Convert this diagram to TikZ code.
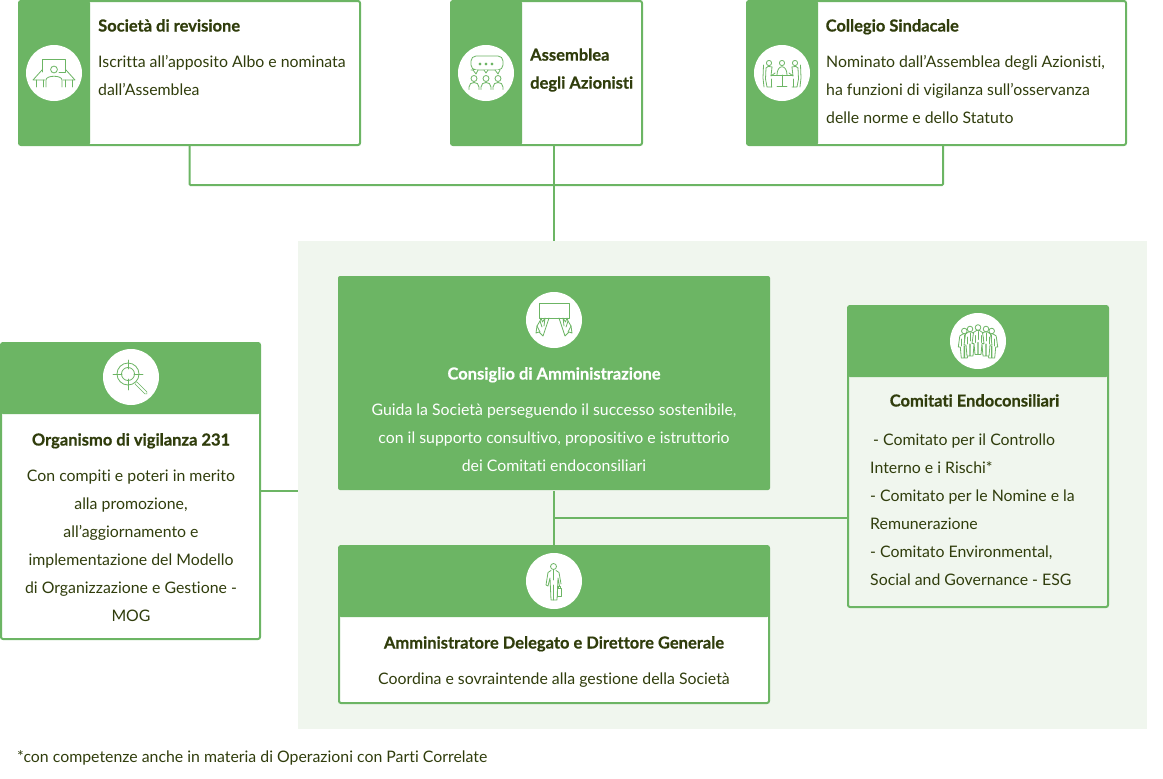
\documentclass[tikz,border=0pt]{standalone}
\usepackage{fontspec}
\setmainfont[Ligatures=NoCommon, BoldFeatures={FakeBold=0.6}]{Lato}
\usepackage{tikz}
\usetikzlibrary{calc,positioning}

\definecolor{leaf}{HTML}{6CB564}
\definecolor{paleleaf}{HTML}{F0F6EE}
\definecolor{ink}{HTML}{303D0C}

\tikzset{
    card/.style={rectangle, draw=leaf, line width=2pt, fill=white, rounded corners=2pt, inner sep=0pt, anchor=north west},
    sidecard/.style={card, path picture={\fill[leaf] (path picture bounding box.north west) rectangle ([xshift=71pt]path picture bounding box.south west);}},
    topcard/.style={card, path picture={\fill[leaf] (path picture bounding box.north west) rectangle ([yshift=-71pt]path picture bounding box.north east);}},
    badge/.style={circle, fill=white, minimum size=56pt, inner sep=0pt},
    titletext/.style={inner sep=0pt, text=ink, font=\fontsize{16.5}{28}\selectfont\bfseries},
    bodytext/.style={inner sep=0pt, text=ink, font=\fontsize{15.85}{28}\selectfont},
    link/.style={draw=leaf, line width=2pt},
    glyph/.style={draw=leaf, line width=.8pt, line join=round, line cap=round},
    deskicon/.pic={
        \draw[glyph] (-11.5,-1) -- (-11.5,-13.5) -- (11,-13.5) -- (11,-1) -- (5,-1);
        \draw[glyph] (0,-3.5) circle (3.4);
        \draw[glyph] (-8,14) -- (-8,7) .. controls (-8,2) and (8,2) .. (8,7) -- (8,14);
        \draw[glyph] (-12,-3) -- (-21,7) -- (-9,7);
        \draw[glyph] (12,-3) -- (21,7) -- (9,7);
        \draw[glyph] (-18,7) -- (-18,14) (-11,7) -- (-11,14) (18,7) -- (18,14) (11,7) -- (11,14);
    },
    talkicon/.pic={
        \draw[glyph, rounded corners=5pt] (-5,-3) -- (-10,-3) -- (-15,-3) -- (-15,-17) -- (17,-17) -- (17,-3) -- (5,-3) -- cycle;
        \draw[glyph, fill=white] (-13,-3) -- (-10,1) -- (-8,-3);
        \draw[glyph, fill=white] (9,-3) -- (12,1) -- (14,-3);
        \draw[glyph, fill=white] (-2,-3) -- (0,0) -- (2,-3);
        \foreach \dotx in {-6,0,6} {\draw[glyph] (\dotx,-9) circle (1);}
        \foreach \manx in {-12,0,12} {
            \draw[glyph] (\manx,5.5) circle (3);
            \draw[glyph] (\manx-5,16.5) -- (\manx-5,14) .. controls (\manx-5,8) and (\manx+5,8) .. (\manx+5,14) -- (\manx+5,16.5);
        }
    },
    tableicon/.pic={
        \draw[glyph] (0,-10) circle (2.6);
        \draw[glyph] (-5,2) .. controls (-5,-9) and (5,-9) .. (5,2);
        \draw[glyph] (-11,2) -- (11,2) (0,2) -- (0,13.5) (-5,13.5) -- (5,13.5);
        \foreach \side in {1,-1} {
            \begin{scope}[xscale=\side]
                \draw[glyph] (13,-10) circle (2.6);
                \draw[glyph] (18.5,-8) -- (19,5) -- (18,14);
                \draw[glyph] (16,-5) -- (16.5,6) -- (15,14) -- (10,14);
                \draw[glyph] (10,-6) .. controls (13,-7) and (15,-7) .. (16,-5);
                \draw[glyph] (10,-6) -- (11,3) -- (7,0);
                \draw[glyph] (11,6) -- (11,14);
            \end{scope}
        }
    },
    tableticon/.pic={
        \draw[glyph] (-15,-2) -- (-15,-17) -- (15,-17) -- (15,-2) -- cycle;
        \foreach \side in {1,-1} {
            \begin{scope}[xscale=\side]
                \draw[glyph] (5,-2) -- (11,16) -- (15,12) -- (18,13) -- (17,6) -- (14,1) -- (13,-2) -- (11.5,2) -- (9,-2) -- (10,6);
                \draw[glyph] (14,1) -- (12,7) (17,6) -- (14,12);
            \end{scope}
        }
    },
    crowdman/.pic={
        \draw[glyph, fill=white] (-1.5,3) -- (-4.5,5) -- (-6,16) -- (-4,16) -- (-3,27) -- (-.3,27) -- (-.3,15) -- (.3,15) -- (.3,27) -- (3,27) -- (4,16) -- (6,16) -- (4.5,5) -- (1.5,3) -- cycle;
        \draw[glyph, fill=white] (0,0) circle (2.8);
        \draw[glyph] (-3,8) -- (-3,15) (3,8) -- (3,15) (0,4) -- (0,12);
    },
    execicon/.pic={
        \draw[glyph] (-.5,-14.5) circle (3);
        \draw[glyph] (-3,-10.5) -- (-6,-8.5) -- (-8,4) -- (-6,5) -- (-4,-3) -- (-3,19) -- (3,19) -- (4,-3) -- (5.5,5);
        \draw[glyph] (2,-10.5) -- (5,-8.5) -- (7,3);
        \draw[glyph] (-.5,-11) -- (-.5,-1) (-.5,4) -- (-.5,19);
        \draw[glyph] (3.5,7) rectangle (7.5,15.5);
        \draw[glyph] (4.5,7) -- (4.5,5) -- (6.5,5) -- (6.5,7);
    },
    targeticon/.pic={
        \draw[glyph] (-3,-3) circle (11) (-3,-3) circle (6.5);
        \draw[glyph] (-18,-3) -- (-9,-3) (3,-3) -- (12,-3) (-3,-17) -- (-3,-8) (-3,2) -- (-3,13);
        \draw[glyph, line width=.7pt, double=white, double distance=1.8pt] (5,6) -- (15,16);
    }
}

\begin{document}
\begin{tikzpicture}[x=1pt, y=-1pt]
    \useasboundingbox (0,0) rectangle (1163,779);
    % green ground behind the board
    \fill[paleleaf] (298,241) rectangle (1147,729);
    \coordinate (ground) at (298,241);

    % top row
    \node[sidecard, minimum width=341pt, minimum height=144pt] (revisione) at (18,0) {};
    \node[sidecard, minimum width=191pt, minimum height=144pt] (assemblea) at (450,0) {};
    \node[sidecard, minimum width=379pt, minimum height=144pt] (collegio) at (746,0) {};
    \node[badge] (revisionebadge) at (54,73) {};
    \node[badge] (assembleabadge) at (486,73) {};
    \node[badge] (collegiobadge) at (782,73) {};
    \pic at (revisionebadge) {deskicon};
    \pic at (assembleabadge) {talkicon};
    \pic at (collegiobadge) {tableicon};

    \node[titletext, anchor=base west] (revisionetitle) at (98,31.5) {Società di revisione};
    \node[bodytext, anchor=west, align=left] (revisionetext) at (98,76) {Iscritta all’apposito Albo e nominata\\dall’Assemblea};
    \node[titletext, anchor=west, align=left] (assembleatitle) at (530,70) {Assemblea\\degli Azionisti};
    \node[titletext, anchor=base west] (collegiotitle) at (825.5,31.5) {Collegio Sindacale};
    \node[bodytext, anchor=west, align=left] (collegiotext) at (826,90) {Nominato dall’Assemblea degli Azionisti,\\ha funzioni di vigilanza sull’osservanza\\delle norme e dello Statuto};

    % board
    \node[card, draw=none, fill=leaf, minimum width=432pt, minimum height=214pt] (consiglio) at (337,275) {};
    \node[badge] (consigliobadge) at (554,320) {};
    \pic at (consigliobadge) {tableticon};
    \node[titletext, text=white, anchor=base] (consigliotitle) at (554,379.5) {Consiglio di Amministrazione};
    \node[bodytext, text=white, align=center] (consigliotext) at (554,438) {Guida la Società perseguendo il successo sostenibile,\\con il supporto consultivo, propositivo e istruttorio\\dei Comitati endoconsiliari};

    % chief executive
    \node[topcard, minimum width=430pt, minimum height=157pt] (delegato) at (338,545) {};
    \node[badge] (delegatobadge) at (554,581) {};
    \pic at (delegatobadge) {execicon};
    \node[titletext, anchor=base] (delegatotitle) at (554,648.5) {Amministratore Delegato e Direttore Generale};
    \node[bodytext, anchor=base] (delegatotext) at (554,684) {Coordina e sovraintende alla gestione della Società};

    % committees
    \node[topcard, minimum width=260pt, minimum height=301pt, fill=paleleaf] (comitati) at (847,305) {};
    \node[badge] (comitatibadge) at (978,341) {};
    \foreach \manx/\many in {-13.7/-10,13.7/-10,-8/-12,8/-12,0/-13.5} {
        \pic at ($(comitatibadge)+(\manx,\many)$) {crowdman};
    }
    \node[titletext, anchor=base] (comitatititle) at (974.5,406.5) {Comitati Endoconsiliari};
    \node[bodytext, anchor=west, align=left] (comitatitext) at (870,510) {\hspace*{3pt}- Comitato per il Controllo\\Interno e i Rischi*\\- Comitato per le Nomine e la\\Remunerazione\\- Comitato Environmental,\\Social and Governance - ESG};

    % supervisory body
    \node[topcard, minimum width=259pt, minimum height=296pt] (organismo) at (0,342) {};
    \node[badge] (organismobadge) at (131,377) {};
    \pic at (organismobadge) {targeticon};
    \node[titletext, anchor=base] (organismotitle) at (131,445.5) {Organismo di vigilanza 231};
    \node[bodytext, align=center] (organismotext) at (131,546) {Con compiti e poteri in merito\\alla promozione,\\all’aggiornamento e\\implementazione del Modello\\di Organizzazione e Gestione -\\MOG};

    \node[bodytext, anchor=base west] (nota) at (17,762) {*con competenze anche in materia di Operazioni con Parti Correlate};

    % connectors
    \coordinate (topbus) at (554,185);
    \coordinate (collegiodrop) at (943,185);
    \coordinate (branch) at (554,518);
    \draw[link, rounded corners=1pt] (revisione.south) |- (collegiodrop) -- (collegio.south -| collegiodrop);
    \draw[link] (assemblea.south -| topbus) -- (ground -| topbus);
    \draw[link] (organismo.east) -- (organismo.east -| ground);
    \draw[link] (consiglio.south -| branch) -- (delegato.north -| branch);
    \draw[link] (branch) -- (branch -| comitati.west);
\end{tikzpicture}
\end{document}
